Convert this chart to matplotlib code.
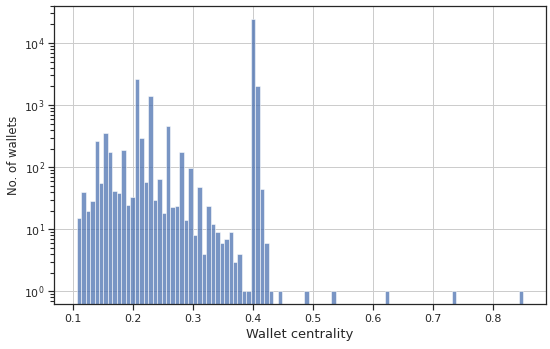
import numpy as np
import matplotlib
matplotlib.use('Agg')
import matplotlib.pyplot as plt
from matplotlib.ticker import LogLocator
import seaborn as sns

# ========= data (100 bins) =========
x_min = 0.1056
x_max = 0.8506
n_bins = 100

# counts per bin, indices not listed are empty
counts = np.zeros(n_bins)
first_counts = [15, 40, 20, 29, 262, 56, 357, 178, 42, 38,
                186, 25, 33, 2600, 290, 58, 1380, 30, 65, 18,
                458, 23, 24, 174, 14, 97, 8, 48, 4, 24,
                12, 9, 6, 7, 9, 3, 4, 1, 1, 24000,
                2000, 45, 6, 1]
counts[:len(first_counts)] = first_counts
single_bins = [45, 51, 57, 69, 84, 99]
counts[single_bins] = 1

xlabel = 'Wallet centrality'
ylabel = 'No. of wallets'
# ==========================================================

sns.set_theme(style='ticks')
plt.rcParams['font.family'] = ['DejaVu Sans']

# seaborn notebook sizes, drawn at 72 dpi so the 550 px width matches
fig = plt.figure(figsize=(550 / 72, 349 / 72), dpi=72)
ax = fig.add_axes([0.0988, 0.128, 0.8934, 0.856])

edges = np.linspace(x_min, x_max, n_bins + 1)
mask = counts > 0
ax.bar(edges[:-1][mask], counts[mask], width=np.diff(edges)[mask], align='edge',
       color='#4C72B0', alpha=0.75, edgecolor='white', linewidth=0.7, zorder=2)

ax.set_yscale('log')
ax.yaxis.set_major_locator(LogLocator(base=10, numticks=100))
ax.yaxis.set_minor_locator(LogLocator(base=10, subs=np.arange(2, 10), numticks=100))
ax.set_ylim(0.62, 4.0e4)
ax.set_xlim(x_min - 0.05 * (x_max - x_min), x_max + 0.05 * (x_max - x_min))
ax.set_xticks([0.1, 0.2, 0.3, 0.4, 0.5, 0.6, 0.7, 0.8])

ax.tick_params(axis='both', which='major', length=6, width=1.2, labelsize=11)
ax.tick_params(axis='y', which='minor', left=True, length=4.5, width=1.1)

ax.grid(True, which='major', color='#cccccc', linewidth=1.0, zorder=0)
ax.set_axisbelow(True)
ax.set_xlabel(xlabel, fontsize=13)
ax.set_ylabel(ylabel, fontsize=11.6)

fig.savefig('out.png', dpi=72)
